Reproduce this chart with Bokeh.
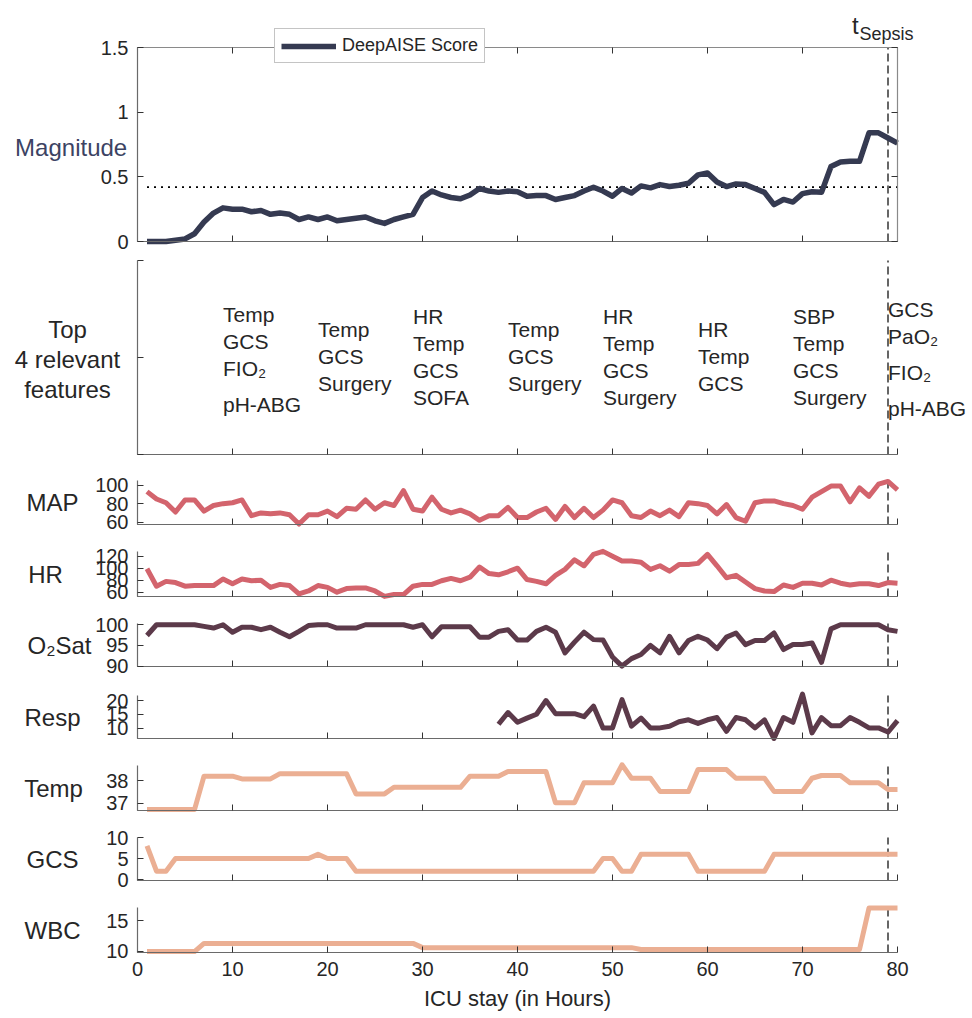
from bokeh.plotting import figure
from bokeh.models import (Range1d, LinearAxis, FixedTicker, Label, LabelSet,
                          ColumnDataSource, Legend, LegendItem)
from bokeh.layouts import column
from bokeh.core.properties import value
from bokeh.embed import file_html
from bokeh.resources import INLINE

# ---------------- data ----------------
hours = list(range(1, 81))
x_ticks = [0, 10, 20, 30, 40, 50, 60, 70, 80]
t_sepsis = 79
threshold = 0.42

score = [0, 0, 0, 0.01, 0.02, 0.06, 0.15, 0.22, 0.26, 0.25,
         0.25, 0.23, 0.24, 0.21, 0.22, 0.21, 0.17, 0.19, 0.17, 0.19,
         0.16, 0.17, 0.18, 0.19, 0.16, 0.14, 0.17, 0.19, 0.21, 0.34,
         0.39, 0.36, 0.34, 0.33, 0.36, 0.41, 0.39, 0.38, 0.39, 0.385,
         0.35, 0.355, 0.355, 0.325, 0.34, 0.355, 0.39, 0.42, 0.39, 0.35,
         0.41, 0.375, 0.43, 0.415, 0.44, 0.425, 0.435, 0.45, 0.515, 0.53,
         0.46, 0.425, 0.445, 0.44, 0.41, 0.38, 0.285, 0.325, 0.305, 0.37,
         0.385, 0.38, 0.58, 0.615, 0.62, 0.62, 0.84, 0.84, 0.80, 0.76]

map_vals = [93, 85, 81, 71, 84, 84, 72, 78, 80, 81,
            84, 67, 70, 69, 70, 68, 58, 68, 68, 72,
            66, 75, 74, 84, 74, 81, 78, 94, 74, 72,
            87, 74, 70, 73, 69, 62, 67, 67, 76, 65,
            65, 71, 75, 63, 77, 65, 75, 65, 73, 84,
            81, 67, 65, 72, 67, 73, 66, 81, 80, 78,
            69, 79, 65, 61, 81, 83, 83, 80, 78, 74,
            87, 93, 99, 99, 82, 97, 88, 101, 104, 95]

hr_vals = [99, 70, 78, 76, 70, 71, 71, 71, 82, 74,
           82, 79, 80, 68, 73, 71, 57, 62, 71, 68,
           60, 66, 67, 67, 62, 53, 56, 56, 70, 73,
           73, 79, 83, 79, 85, 102, 91, 89, 94, 100,
           81, 78, 74, 88, 98, 114, 104, 123, 128, 120,
           112, 112, 110, 98, 104, 95, 106, 106, 108, 123,
           104, 84, 88, 77, 66, 62, 61, 72, 68, 75,
           75, 72, 80, 75, 72, 74, 74, 71, 76, 75]

o2_vals = [97.4, 100, 100, 100, 100, 100, 99.6, 99.2, 100, 98.2,
           99.4, 99.4, 98.8, 99.4, 98.2, 97.1, 98.4, 99.8, 100, 100,
           99.2, 99.2, 99.2, 100, 100, 100, 100, 100, 99.4, 100,
           97.1, 99.5, 99.5, 99.5, 99.5, 97, 97, 98.4, 98.8, 96.3,
           96.3, 98.4, 99.4, 98.2, 93.2, 95.8, 98.2, 96.4, 96.3, 92.2,
           90, 91.8, 92.8, 95, 93.2, 97.2, 93.2, 96.2, 97.2, 96.3,
           94.2, 97, 98, 95.2, 96.2, 96.2, 98, 94, 95.2, 95.2,
           95.6, 90.9, 99, 100, 100, 100, 100, 100, 98.8, 98.4]

resp_hours = [38, 39, 40, 41, 42, 43, 44, 45, 46, 47,
              48, 49, 50, 51, 52, 53, 54, 55, 56, 57,
              58, 59, 60, 61, 62, 63, 64, 65, 66, 67,
              68, 69, 70, 71, 72, 73, 74, 75, 76, 77,
              78, 79, 80]
resp_vals = [11.5, 15.7, 12.2, 13.7, 15.1, 20, 15.3, 15.3, 15.3, 14.2,
             18, 10.2, 10.2, 20.3, 10.8, 13.7, 10.2, 10.2, 10.8, 12.4,
             13.1, 11.8, 13.1, 13.9, 9, 13.9, 13.1, 10.2, 13.1, 6.4,
             13.9, 12.2, 22.3, 8.4, 13.9, 11, 11, 13.9, 12.2, 10.2,
             10.2, 8.7, 12.8]

temp_vals = [36.72, 36.72, 36.72, 36.72, 36.72, 36.72, 38.19, 38.19, 38.19, 38.19,
             38.07, 38.07, 38.07, 38.07, 38.3, 38.3, 38.3, 38.3, 38.3, 38.3,
             38.3, 38.3, 37.41, 37.41, 37.41, 37.41, 37.7, 37.7, 37.7, 37.7,
             37.7, 37.7, 37.7, 37.7, 38.19, 38.19, 38.19, 38.19, 38.4, 38.4,
             38.4, 38.4, 38.4, 37.02, 37.02, 37.02, 37.9, 37.9, 37.9, 37.9,
             38.69, 38.1, 38.1, 38.1, 37.52, 37.52, 37.52, 37.52, 38.48, 38.48,
             38.48, 38.48, 38.1, 38.1, 38.1, 38.1, 37.52, 37.52, 37.52, 37.52,
             38.1, 38.22, 38.22, 38.22, 37.9, 37.9, 37.9, 37.9, 37.6, 37.6]

gcs_vals = [8, 2, 2, 5, 5, 5, 5, 5, 5, 5,
            5, 5, 5, 5, 5, 5, 5, 5, 6, 5,
            5, 5, 2, 2, 2, 2, 2, 2, 2, 2,
            2, 2, 2, 2, 2, 2, 2, 2, 2, 2,
            2, 2, 2, 2, 2, 2, 2, 2, 5, 5,
            2, 2, 6, 6, 6, 6, 6, 6, 2, 2,
            2, 2, 2, 2, 2, 2, 6, 6, 6, 6,
            6, 6, 6, 6, 6, 6, 6, 6, 6, 6]

wbc_vals = [9.95, 9.95, 9.95, 9.95, 9.95, 9.95, 11.3, 11.3, 11.3, 11.3,
            11.3, 11.3, 11.3, 11.3, 11.3, 11.3, 11.3, 11.3, 11.3, 11.3,
            11.3, 11.3, 11.3, 11.3, 11.3, 11.3, 11.3, 11.3, 11.3, 10.6,
            10.6, 10.6, 10.6, 10.6, 10.6, 10.6, 10.6, 10.6, 10.6, 10.6,
            10.6, 10.6, 10.6, 10.6, 10.6, 10.6, 10.6, 10.6, 10.6, 10.6,
            10.6, 10.6, 10.3, 10.3, 10.3, 10.3, 10.3, 10.3, 10.3, 10.3,
            10.3, 10.3, 10.3, 10.3, 10.3, 10.3, 10.3, 10.3, 10.3, 10.3,
            10.3, 10.3, 10.3, 10.3, 10.3, 10.3, 17.1, 17.1, 17.1, 17.1]

feature_x = [9, 19, 29, 39, 49, 59, 69, 79]
feature_lists = [["Temp", "GCS", "FIO₂", "pH-ABG"],
                 ["Temp", "GCS", "Surgery"],
                 ["HR", "Temp", "GCS", "SOFA"],
                 ["Temp", "GCS", "Surgery"],
                 ["HR", "Temp", "GCS", "Surgery"],
                 ["HR", "Temp", "GCS"],
                 ["SBP", "Temp", "GCS", "Surgery"],
                 ["GCS", "PaO₂", "FIO₂", "pH-ABG"]]

# ---------------- style ----------------
FONT = "Liberation Sans"
TXT = "#262626"
AXIS = "#6a6a6a"
TICK = "#333333"
C_SCORE = "#353a51"
C_RED = "#d3646d"
C_PLUM = "#5c3a4a"
C_PEACH = "#ebaf93"
LW = 5
PAGE_W = 972
LEFT_PX = 137           # page x of hour 0
PX_PER_H = 9.5          # page pixels per hour
X0 = -LEFT_PX / PX_PER_H
X1 = (PAGE_W - LEFT_PX) / PX_PER_H


def hx(px):
    return (px - LEFT_PX) / PX_PER_H


def blank(ticks):
    return {t: "" for t in ticks}


def make_fig(canvas, frame, vr, yticks, ylabels=True, last=False):
    c0, c1 = canvas
    f0, f1 = frame
    vb, vt = vr
    s = (f1 - f0) / (vt - vb)
    y0 = vb - (c1 - f1) / s
    y1 = vt + (f0 - c0) / s
    h = c1 - c0
    p = figure(width=PAGE_W, height=h, frame_width=PAGE_W, frame_height=h,
               x_range=Range1d(X0, X1), y_range=Range1d(y0, y1),
               min_border=0, title=None,
               toolbar_location=None, tools="", output_backend="svg")
    p.grid.visible = False
    p.outline_line_color = None
    p.background_fill_color = "white"
    p.border_fill_color = "white"
    xa = p.xaxis[0]
    xa.fixed_location = vb
    xa.bounds = (0, 80)
    xa.ticker = FixedTicker(ticks=x_ticks)
    xa.major_tick_in = 6
    xa.major_tick_out = 0
    xa.minor_tick_line_color = None
    xa.axis_line_color = AXIS
    xa.axis_line_width = 1.2
    xa.major_tick_line_color = TICK
    xa.major_label_text_font = FONT
    xa.major_label_text_font_size = "20px"
    xa.major_label_text_color = TXT
    if last:
        xa.major_label_standoff = 9
        xa.axis_label = "ICU stay (in Hours)"
        xa.axis_label_text_font = FONT
        xa.axis_label_text_font_size = "22px"
        xa.axis_label_text_font_style = "normal"
        xa.axis_label_text_color = TXT
        xa.axis_label_standoff = 7
    else:
        xa.major_label_overrides = blank(x_ticks)
    ya = p.yaxis[0]
    ya.fixed_location = 0
    ya.bounds = (vb, vt)
    ya.ticker = FixedTicker(ticks=yticks)
    ya.major_tick_in = 6
    ya.major_tick_out = 0
    ya.minor_tick_line_color = None
    ya.axis_line_color = AXIS
    ya.axis_line_width = 1.2
    ya.major_tick_line_color = TICK
    ya.major_label_text_font = FONT
    ya.major_label_text_font_size = "20px"
    ya.major_label_text_color = TXT
    ya.major_label_standoff = 9
    if not ylabels:
        ya.major_label_overrides = blank(yticks)
    # t_sepsis marker across the panel
    p.line([t_sepsis, t_sepsis], [vb, vt], line_dash="8 4", line_color="#333333",
           line_width=1.5)
    return p


def side_label(p, text, cx, vr, size="24px"):
    p.add_layout(Label(x=hx(cx), y=(vr[0] + vr[1]) / 2.0, text=text,
                       text_align="center", text_baseline="middle",
                       text_font=FONT, text_font_size=size, text_color=TXT))


# ---------------- top: score ----------------
vr0 = (0, 1.5)
score_ticks = [0, 0.5, 1, 1.5]
p0 = make_fig((0, 251), (47, 241), vr0, score_ticks)
p0.yaxis[0].major_label_overrides = {0: "0", 0.5: "0.5", 1: "1", 1.5: "1.5"}
top_ax = LinearAxis(ticker=FixedTicker(ticks=x_ticks), fixed_location=vr0[1], bounds=(0, 80),
                    major_label_overrides=blank(x_ticks),
                    major_tick_in=6, major_tick_out=0, minor_tick_line_color=None,
                    axis_line_color="#8a8a8a", axis_line_width=1.2,
                    major_tick_line_color=TICK)
p0.add_layout(top_ax, "above")
right_ax = LinearAxis(ticker=FixedTicker(ticks=score_ticks), fixed_location=80, bounds=vr0,
                      major_label_overrides=blank(score_ticks),
                      major_tick_in=6, major_tick_out=0, minor_tick_line_color=None,
                      axis_line_color="#8a8a8a", axis_line_width=1.2,
                      major_tick_line_color=TICK)
p0.add_layout(right_ax, "right")
p0.line([hours[0], hours[-1]], [threshold, threshold], line_color="black",
        line_width=1.8, line_dash="2 5")
r_score = p0.line(hours, score, line_color=C_SCORE, line_width=LW + 0.5, line_join="round")
legend = Legend(items=[LegendItem(label="DeepAISE Score", renderers=[r_score])],
                location=(274, 188), margin=0, padding=6, spacing=0,
                glyph_width=55, glyph_height=20, label_height=20, label_standoff=6,
                label_text_font=FONT, label_text_font_size="18px", label_text_color=TXT,
                border_line_color="#8a8a8a", border_line_width=1,
                background_fill_color="white", background_fill_alpha=1)
p0.add_layout(legend, "center")
p0.add_layout(Label(x=hx(126.7), y=0.73, text="Magnitude", text_align="right",
                    text_baseline="middle", text_font=FONT, text_font_size="24px",
                    text_color="#3c4363"))
p0.add_layout(Label(x=hx(851.5), y=1.67, text="t", text_align="left",
                    text_baseline="alphabetic", text_font=FONT, text_font_size="24px",
                    text_color=TXT))
p0.add_layout(Label(x=hx(859), y=1.605, text="Sepsis", text_align="left",
                    text_baseline="alphabetic", text_font=FONT, text_font_size="18px",
                    text_color=TXT))

# ---------------- features panel ----------------
vr1 = (0, 2)
p1 = make_fig((251, 464), (260, 454), vr1, [0, 1, 2], ylabels=False)
step = 27 / 97.0
extra = 9 / 97.0
fx, fy, ft = [], [], []
for gx, words in zip(feature_x, feature_lists):
    offs = []
    o = 0.0
    prev_sub = False
    for i, w in enumerate(words):
        if i > 0:
            o += step + (extra if prev_sub else 0)
        offs.append(o)
        prev_sub = "₂" in w
    mean_o = sum(offs) / len(offs)
    for w, o in zip(words, offs):
        fx.append(gx)
        fy.append(0.928 - (o - mean_o))
        ft.append(w)
fsrc = ColumnDataSource(dict(x=fx, y=fy, text=ft))
p1.add_layout(LabelSet(x="x", y="y", text="text", source=fsrc, text_align="left",
                       text_baseline="alphabetic", text_font=value(FONT),
                       text_font_size=value("21px"), text_color=value(TXT)))
for txt, yy in [("Top", 1.29), ("4 relevant", 0.98), ("features", 0.67)]:
    p1.add_layout(Label(x=hx(67), y=yy, text=txt, text_align="center",
                        text_baseline="alphabetic", text_font=FONT,
                        text_font_size="24px", text_color=TXT))

# ---------------- vital panels ----------------
vr_map = (57.5, 105)
p_map = make_fig((464, 537), (480, 524), vr_map, [60, 80, 100])
p_map.line(hours, map_vals, line_color=C_RED, line_width=LW, line_join="round")
side_label(p_map, "MAP", 52, vr_map)

vr_hr = (52.8, 127.8)
p_hr = make_fig((537, 609), (551, 596), vr_hr, [60, 80, 100, 120])
p_hr.line(hours, hr_vals, line_color=C_RED, line_width=LW, line_join="round")
side_label(p_hr, "HR", 45, vr_hr)

vr_o2 = (89.9, 100.3)
p_o2 = make_fig((609, 680), (623, 666), vr_o2, [90, 95, 100])
p_o2.line(hours, o2_vals, line_color=C_PLUM, line_width=LW, line_join="round")
side_label(p_o2, "O₂Sat", 59, vr_o2)

vr_resp = (6.4, 21.8)
p_resp = make_fig((680, 751), (695, 738), vr_resp, [10, 15, 20])
p_resp.line(resp_hours, resp_vals, line_color=C_PLUM, line_width=LW, line_join="round")
side_label(p_resp, "Resp", 52, vr_resp)

vr_temp = (36.68, 38.66)
p_temp = make_fig((751, 823), (765, 810), vr_temp, [37, 38])
p_temp.line(hours, temp_vals, line_color=C_PEACH, line_width=LW, line_join="round")
side_label(p_temp, "Temp", 53, vr_temp)

vr_gcs = (-0.2, 10)
p_gcs = make_fig((823, 893), (837, 880), vr_gcs, [0, 5, 10])
p_gcs.line(hours, gcs_vals, line_color=C_PEACH, line_width=LW, line_join="round")
side_label(p_gcs, "GCS", 52, vr_gcs)

vr_wbc = (9.8, 17.2)
p_wbc = make_fig((893, 1016), (907, 952), vr_wbc, [10, 15], last=True)
p_wbc.line(hours, wbc_vals, line_color=C_PEACH, line_width=LW, line_join="round")
side_label(p_wbc, "WBC", 52, vr_wbc)

layout = column(p0, p1, p_map, p_hr, p_o2, p_resp, p_temp, p_gcs, p_wbc, spacing=0)

open("out.html", "w").write(file_html(layout, INLINE))
